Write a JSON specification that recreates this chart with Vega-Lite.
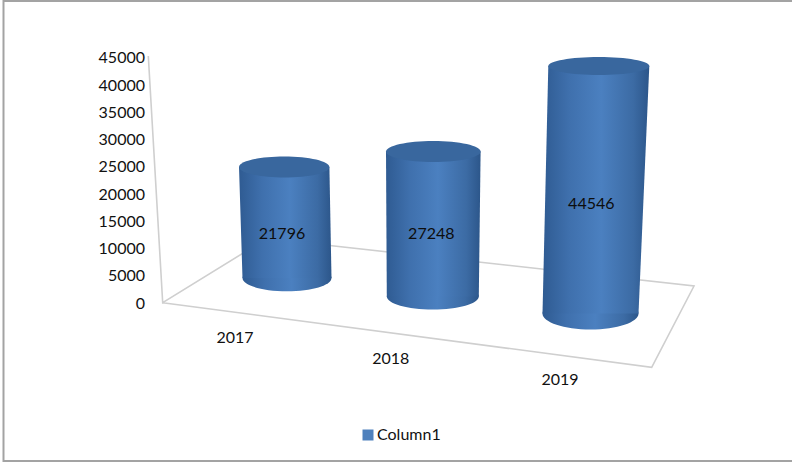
{
  "$schema": "https://vega.github.io/schema/vega-lite/v6.json",
  "width": 792,
  "height": 463,
  "padding": 0,
  "autosize": {"type": "none"},
  "background": "white",
  "config": {"view": {"stroke": null}},
  "datasets": {
    "sales": [
      {"year": "2017", "value": 21796, "series": "Column1"},
      {"year": "2018", "value": 27248, "series": "Column1"},
      {"year": "2019", "value": 44546, "series": "Column1"}
    ],
    "frame": [
      {"corner": "tr", "seq": 0},
      {"corner": "tl", "seq": 1},
      {"corner": "bl", "seq": 2},
      {"corner": "br", "seq": 3}
    ],
    "floor": [
      {"corner": "top", "seq": 0},
      {"corner": "origin", "seq": 1},
      {"corner": "backLeft", "seq": 2},
      {"corner": "backRight", "seq": 3},
      {"corner": "frontRight", "seq": 4},
      {"corner": "origin", "seq": 5}
    ]
  },
  "layer": [
    {
      "data": {"name": "frame"},
      "transform": [
        {"calculate": "{tr:792,tl:3.5,bl:3.5,br:792}[datum.corner]", "as": "px"},
        {"calculate": "{tr:55470,tl:55470,bl:-29020,br:-29020}[datum.corner]", "as": "py"}
      ],
      "mark": {"type": "line", "stroke": "#a3a3a3", "strokeWidth": 2, "clip": false},
      "encoding": {
        "x": {"field": "px", "type": "quantitative", "scale": {"domain": [0, 792]}, "axis": null},
        "y": {
          "field": "py",
          "type": "quantitative",
          "scale": {"domain": [-29387, 55652], "nice": false, "zero": false},
          "axis": {
            "title": null,
            "values": [0, 5000, 10000, 15000, 20000, 25000, 30000, 35000, 40000, 45000],
            "format": "d",
            "offset": -144.5,
            "domain": false,
            "ticks": false,
            "grid": false,
            "labelPadding": 0,
            "labelFont": "Lato",
            "labelFontSize": 16,
            "labelColor": "#111111",
            "labelOverlap": false,
            "labelBound": false,
            "labelFlush": false
          }
        },
        "order": {"field": "seq", "type": "quantitative"}
      }
    },
    {
      "data": {"name": "floor"},
      "transform": [
        {"calculate": "{top:148.3,origin:162.7,backLeft:266.8,backRight:694,frontRight:651.7}[datum.corner]", "as": "px"},
        {"calculate": "{top:45363,origin:55,backLeft:11847,backRight:3123,frontRight:-11809}[datum.corner]", "as": "py"}
      ],
      "mark": {"type": "line", "stroke": "#cfcfcf", "strokeWidth": 1.6},
      "encoding": {
        "x": {"field": "px", "type": "quantitative", "scale": {"domain": [0, 792]}, "axis": null},
        "y": {"field": "py", "type": "quantitative"},
        "order": {"field": "seq", "type": "quantitative"}
      }
    },
    {
      "data": {"name": "sales"},
      "transform": [
        {"calculate": "{'2017':4592,'2018':1194,'2019':-1929}[datum.year]", "as": "base"},
        {"calculate": "{'2017':287,'2018':432.8,'2019':590.5}[datum.year]", "as": "xBase"},
        {"calculate": "{'2017':89,'2018':92,'2019':96}[datum.year]", "as": "span"},
        {"calculate": "{'2017':0.3,'2018':0.283,'2019':0.333}[datum.year]", "as": "flat"},
        {"calculate": "datum.span * datum.span", "as": "area"},
        {"calculate": "'M-1,0A1,' + datum.flat + ',0,1,0,1,0A1,' + datum.flat + ',0,1,0,-1,0Z'", "as": "disc"}
      ],
      "mark": {
        "type": "point",
        "filled": true,
        "opacity": 1,
        "fill": {
          "x1": 0, "y1": 0, "x2": 1, "y2": 0,
          "gradient": "linear",
          "stops": [
            {"offset": 0, "color": "#2f5b92"},
            {"offset": 0.25, "color": "#3f70ad"},
            {"offset": 0.55, "color": "#4b80c0"},
            {"offset": 0.85, "color": "#3c6ba4"},
            {"offset": 1, "color": "#2c568a"}
          ]
        }
      },
      "encoding": {
        "x": {"field": "xBase", "type": "quantitative", "scale": {"domain": [0, 792]}, "axis": null},
        "y": {"field": "base", "type": "quantitative"},
        "size": {"field": "area", "type": "quantitative", "scale": null},
        "shape": {"field": "disc", "type": "nominal", "scale": null}
      }
    },
    {
      "data": {"name": "sales"},
      "transform": [
        {"calculate": "{'2017':4592,'2018':1194,'2019':-1929}[datum.year]", "as": "base"},
        {"calculate": "{'2017':0.9355,'2018':0.9773,'2019':1.0205}[datum.year]", "as": "gain"},
        {"calculate": "{'2017':287,'2018':432.8,'2019':590.5}[datum.year]", "as": "xBase"},
        {"calculate": "{'2017':284.2,'2018':433.3,'2019':598.8}[datum.year]", "as": "xTop"},
        {"calculate": "{'2017':44.5,'2018':46,'2019':48}[datum.year]", "as": "rBase"},
        {"calculate": "{'2017':45.2,'2018':47.3,'2019':50.5}[datum.year]", "as": "rTop"},
        {"calculate": "datum.base + datum.value * datum.gain", "as": "top"},
        {"calculate": "[0, 1]", "as": "end"},
        {"flatten": ["end"]},
        {"calculate": "datum.end ? datum.top : datum.base", "as": "yEnd"},
        {"calculate": "datum.end ? datum.xTop - datum.rTop : datum.xBase - datum.rBase", "as": "xLeft"},
        {"calculate": "datum.end ? datum.xTop + datum.rTop : datum.xBase + datum.rBase", "as": "xRight"}
      ],
      "mark": {
        "type": "area",
        "orient": "horizontal",
        "fill": {
          "x1": 0, "y1": 0, "x2": 1, "y2": 0,
          "gradient": "linear",
          "stops": [
            {"offset": 0, "color": "#2f5b92"},
            {"offset": 0.25, "color": "#3f70ad"},
            {"offset": 0.55, "color": "#4b80c0"},
            {"offset": 0.85, "color": "#3c6ba4"},
            {"offset": 1, "color": "#2c568a"}
          ]
        }
      },
      "encoding": {
        "x": {"field": "xLeft", "type": "quantitative", "scale": {"domain": [0, 792]}, "axis": null},
        "x2": {"field": "xRight"},
        "y": {"field": "yEnd", "type": "quantitative"},
        "detail": {"field": "year"}
      }
    },
    {
      "data": {"name": "sales"},
      "transform": [
        {"calculate": "{'2017':4592,'2018':1194,'2019':-1929}[datum.year]", "as": "base"},
        {"calculate": "{'2017':0.9355,'2018':0.9773,'2019':1.0205}[datum.year]", "as": "gain"},
        {"calculate": "{'2017':284.2,'2018':433.3,'2019':598.8}[datum.year]", "as": "xTop"},
        {"calculate": "{'2017':90.4,'2018':94.6,'2019':101}[datum.year]", "as": "span"},
        {"calculate": "{'2017':0.233,'2018':0.223,'2019':0.178}[datum.year]", "as": "flat"},
        {"calculate": "datum.base + datum.value * datum.gain", "as": "top"},
        {"calculate": "datum.span * datum.span", "as": "area"},
        {"calculate": "'M-1,0A1,' + datum.flat + ',0,1,0,1,0A1,' + datum.flat + ',0,1,0,-1,0Z'", "as": "disc"}
      ],
      "mark": {"type": "point", "filled": true, "opacity": 1, "fill": "#39679e"},
      "encoding": {
        "x": {"field": "xTop", "type": "quantitative", "scale": {"domain": [0, 792]}, "axis": null},
        "y": {"field": "top", "type": "quantitative"},
        "size": {"field": "area", "type": "quantitative", "scale": null},
        "shape": {"field": "disc", "type": "nominal", "scale": null}
      }
    },
    {
      "data": {"name": "sales"},
      "transform": [
        {"calculate": "{'2017':282,'2018':431.3,'2019':591.3}[datum.year]", "as": "xLabel"},
        {"calculate": "{'2017':12673,'2018':12673,'2019':18128}[datum.year]", "as": "yLabel"}
      ],
      "mark": {"type": "text", "font": "Lato", "fontSize": 16, "color": "#0d0d0d", "baseline": "middle", "align": "center"},
      "encoding": {
        "x": {"field": "xLabel", "type": "quantitative", "scale": {"domain": [0, 792]}, "axis": null},
        "y": {"field": "yLabel", "type": "quantitative"},
        "text": {"field": "value", "type": "quantitative", "format": "d"}
      }
    },
    {
      "data": {"name": "sales"},
      "transform": [
        {"calculate": "{'2017':235,'2018':390.7,'2019':560}[datum.year]", "as": "xLabel"},
        {"calculate": "{'2017':-6428,'2018':-10285,'2019':-14142}[datum.year]", "as": "yLabel"}
      ],
      "mark": {"type": "text", "font": "Lato", "fontSize": 16, "color": "#111111", "baseline": "middle", "align": "center"},
      "encoding": {
        "x": {"field": "xLabel", "type": "quantitative", "scale": {"domain": [0, 792]}, "axis": null},
        "y": {"field": "yLabel", "type": "quantitative"},
        "text": {"field": "year", "type": "nominal"}
      }
    },
    {
      "data": {"name": "sales"},
      "mark": {"type": "point", "filled": true, "size": 0},
      "encoding": {
        "x": {"field": "value", "type": "quantitative", "scale": {"domain": [0, 792]}, "axis": null},
        "y": {"datum": 0, "type": "quantitative"},
        "color": {
          "field": "series",
          "type": "nominal",
          "scale": {"range": ["#4f81bd"]},
          "legend": {
            "title": null,
            "orient": "none",
            "legendX": 360,
            "legendY": 427,
            "symbolType": "square",
            "symbolSize": 121,
            "symbolOpacity": 1,
            "labelFont": "Lato",
            "labelFontSize": 16,
            "labelColor": "#111111",
            "labelOffset": 1
          }
        }
      }
    }
  ]
}
